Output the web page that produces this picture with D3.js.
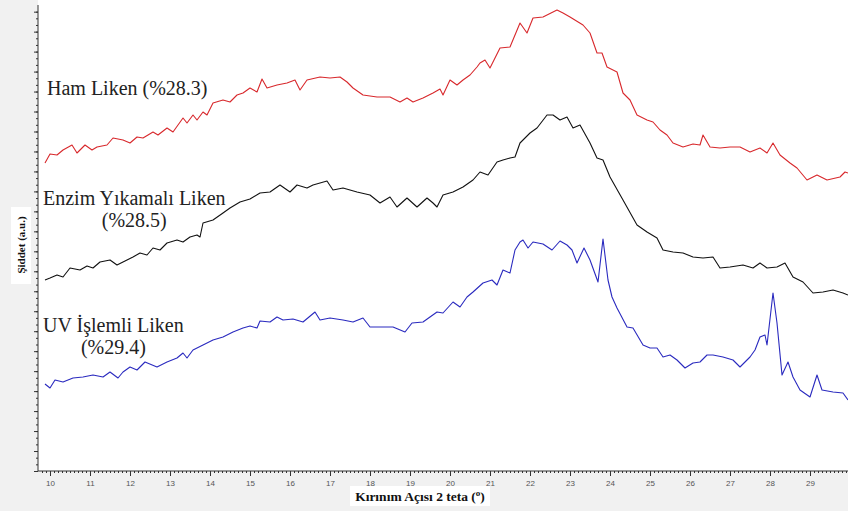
<!DOCTYPE html>
<html>
<head>
<meta charset="utf-8">
<script src="https://cdn.jsdelivr.net/npm/d3@7"></script>
<style>
  body { margin: 0; background: #f1f1f1; }
  svg { display: block; }
</style>
</head>
<body>
<div id="chart"></div>
<script>
// XRD patterns: [2 theta, intensity a.u.]
const hamLiken = [
  [9.875,308],[10.0,317],[10.175,316],[10.325,321],[10.55,326],[10.675,318],[10.875,326],[11.05,321],
  [11.175,324],[11.425,326],[11.575,333],[11.825,331],[12.0,328],[12.175,334],[12.325,333],[12.575,339],
  [12.7,336],[12.925,343],[13.075,339],[13.325,353],[13.425,348],[13.575,356],[13.675,351],[13.825,359],
  [13.925,356],[14.075,368],[14.325,371],[14.5,369],[14.675,376],[14.825,378],[15.0,383],[15.175,379],
  [15.3,392],[15.425,383],[15.675,386],[15.925,388],[16.125,391],[16.25,381],[16.425,391],[16.75,394],
  [17.0,393],[17.25,394],[17.425,389],[17.575,383],[17.825,376],[18.175,374],[18.5,374],[18.75,369],
  [18.925,373],[19.075,369],[19.325,373],[19.575,378],[19.75,382],[19.825,376],[20.0,391],[20.175,386],
  [20.325,391],[20.5,396],[20.675,404],[20.75,408],[20.875,411],[21.0,403],[21.25,423],[21.5,424],
  [21.75,448],[21.925,438],[22.075,453],[22.325,454],[22.675,461],[22.825,458],[23.0,454],[23.325,446],
  [23.5,438],[23.675,418],[23.8,418],[23.925,404],[24.175,399],[24.325,378],[24.5,371],[24.675,356],
  [24.925,351],[25.075,349],[25.25,341],[25.425,336],[25.575,328],[25.825,324],[26.075,327],[26.25,326],
  [26.325,336],[26.5,324],[26.75,323],[27.0,324],[27.25,324],[27.5,319],[27.75,323],[27.925,318],
  [28.075,328],[28.25,316],[28.5,308],[28.675,303],[28.925,291],[29.175,296],[29.425,291],[29.75,294],
  [29.875,299],[29.95,298]
];

const enzimLiken = [
  [9.875,191],[10.0,193],[10.175,196],[10.325,194],[10.5,203],[10.75,201],[10.925,205],[11.075,203],
  [11.25,209],[11.5,211],[11.675,206],[11.925,211],[12.075,214],[12.25,218],[12.425,216],[12.575,223],
  [12.75,221],[12.925,228],[13.175,231],[13.325,229],[13.5,234],[13.675,236],[13.75,234],[13.825,248],
  [14.075,251],[14.325,258],[14.5,263],[14.75,269],[15.0,272],[15.25,278],[15.5,279],[15.75,286],
  [16.0,279],[16.175,286],[16.425,283],[16.575,286],[16.925,290],[17.075,281],[17.325,283],[17.675,279],
  [18.0,276],[18.25,268],[18.5,274],[18.675,264],[18.925,273],[19.175,264],[19.425,273],[19.575,268],
  [19.675,264],[19.825,276],[20.075,279],[20.325,284],[20.575,291],[20.75,299],[20.95,296],[21.175,309],
  [21.325,311],[21.5,313],[21.625,314],[21.75,328],[22.0,338],[22.175,343],[22.425,356],[22.575,356],
  [22.75,351],[22.925,354],[23.075,343],[23.25,346],[23.5,328],[23.675,313],[23.825,311],[24.0,294],
  [24.325,271],[24.675,246],[24.925,239],[25.175,233],[25.325,221],[25.575,219],[25.825,218],[26.075,214],
  [26.325,213],[26.575,214],[26.75,203],[27.0,204],[27.325,206],[27.575,203],[27.75,208],[27.925,203],
  [28.175,204],[28.375,208],[28.575,194],[28.825,189],[29.075,178],[29.325,179],[29.575,181],[29.825,178],
  [29.95,176]
];

const uvLiken = [
  [9.875,87],[10.0,83],[10.125,91],[10.325,89],[10.575,93],[10.825,94],[11.075,96],[11.325,94],
  [11.5,99],[11.7,93],[11.825,99],[12.0,104],[12.175,101],[12.375,109],[12.675,104],[12.925,109],
  [13.175,113],[13.325,118],[13.425,113],[13.575,121],[13.825,126],[14.075,131],[14.325,134],[14.575,139],
  [14.825,143],[15.0,145],[15.175,143],[15.25,150],[15.5,149],[15.675,154],[15.825,151],[16.075,152],
  [16.325,149],[16.625,159],[16.75,151],[17.0,153],[17.325,151],[17.575,149],[17.825,153],[18.0,144],
  [18.325,144],[18.575,144],[18.875,139],[19.05,148],[19.325,149],[19.5,154],[19.675,159],[19.825,158],
  [20.075,169],[20.25,164],[20.425,174],[20.575,179],[20.825,188],[21.05,191],[21.175,186],[21.325,201],
  [21.5,198],[21.625,221],[21.75,229],[21.825,231],[21.95,223],[22.075,229],[22.325,227],[22.55,221],
  [22.75,230],[22.925,226],[23.05,221],[23.175,208],[23.35,223],[23.5,211],[23.7,189],[23.825,232],
  [23.95,191],[24.05,174],[24.175,163],[24.425,144],[24.575,143],[24.825,126],[25.0,123],[25.175,123],
  [25.325,114],[25.5,116],[25.675,111],[25.875,103],[26.075,108],[26.25,109],[26.425,116],[26.575,116],
  [26.825,114],[27.075,111],[27.25,104],[27.5,114],[27.625,121],[27.75,134],[27.875,136],[27.925,126],
  [28.075,178],[28.175,148],[28.3,96],[28.45,109],[28.575,94],[28.75,81],[29.0,74],[29.175,96],
  [29.3,81],[29.575,79],[29.825,78],[29.95,71]
];

const seriesNames = ["Ham Liken (%28.3)", "Enzim Yıkamalı Liken", "UV İşlemli Liken"];
const seriesSub = ["", "(%28.5)", "(%29.4)"];
const xTicks = d3.range(10, 30, 1);

const width = 848, height = 511;

const svg = d3.select("#chart")
              .append("svg")
              .attr("width", width)
              .attr("height", height);

// white plot area
svg.append("rect")
   .attr("x", 38).attr("y", 0)
   .attr("width", width - 38).attr("height", 471)
   .attr("fill", "#fff");

const x = d3.scaleLinear()
            .domain([9.7, 29.95])
            .range([38, 848]);

const y = d3.scaleLinear()
            .domain([0, 466])
            .range([471, 5]);

// x axis: minor ticks every 0.1, majors with labels
const xAxis = svg.append("g")
   .attr("transform", "translate(0,471)");

xAxis.append("g")
   .call(d3.axisBottom(x).tickValues(d3.range(9.8, 29.95, 0.1)).tickSize(2).tickFormat(""))
   .call(g => g.select(".domain").remove());

xAxis.append("g")
   .call(d3.axisBottom(x).tickValues(xTicks).tickSize(5).tickPadding(4).tickFormat(d3.format("d")))
   .call(g => g.select(".domain").attr("d", `M38,0H848`));

xAxis.selectAll("line").attr("stroke", "#333");
xAxis.selectAll(".domain").attr("stroke", "#333");
xAxis.selectAll("text")
     .attr("font-family", "Liberation Sans, Arial, sans-serif")
     .attr("font-size", 8)
     .attr("fill", "#555");

// y axis: no labels, small ticks
const yAxis = svg.append("g").attr("transform", "translate(38,0)");
yAxis.append("g")
   .call(d3.axisLeft(y).tickValues(d3.range(0, 466, 466 / 70)).tickSize(2).tickFormat(""))
   .call(g => g.select(".domain").remove());
yAxis.append("g")
   .call(d3.axisLeft(y).tickValues(d3.range(0, 466, 466 * 3 / 70)).tickSize(4).tickFormat(""))
   .call(g => g.select(".domain").attr("d", "M0,471V5"));
yAxis.selectAll("line").attr("stroke", "#333");
yAxis.selectAll(".domain").attr("stroke", "#333");

// curves
const line = d3.line()
               .x(d => x(d[0]))
               .y(d => y(d[1]));

[[hamLiken, "#d8282c"], [enzimLiken, "#111"], [uvLiken, "#2a2abf"]].forEach(([data, color]) => {
    svg.append("path")
       .datum(data)
       .attr("fill", "none")
       .attr("stroke", color)
       .attr("stroke-width", 1.1)
       .attr("stroke-linejoin", "round")
       .attr("d", line);
});

// series labels
const labelFont = "Liberation Serif, Times New Roman, serif";
const labelPos = [[47, 95], [43, 205], [43, 332]];
labelPos.forEach(([lx, ly], i) => {
    const t = svg.append("text")
       .attr("x", lx).attr("y", ly)
       .attr("font-family", labelFont)
       .attr("font-size", 20)
       .attr("fill", "#222")
       .text(seriesNames[i]);
    if (seriesSub[i]) {
        const w = t.node().getComputedTextLength();
        svg.append("text")
           .attr("x", lx + w / 2).attr("y", ly + 22)
           .attr("text-anchor", "middle")
           .attr("font-family", labelFont)
           .attr("font-size", 20)
           .attr("fill", "#222")
           .text(seriesSub[i]);
    }
});

// axis titles on white boxes
svg.append("rect")
   .attr("x", 350).attr("y", 486)
   .attr("width", 140).attr("height", 20)
   .attr("fill", "#fff");
const xt = svg.append("text")
   .attr("x", 420).attr("y", 501)
   .attr("text-anchor", "middle")
   .attr("font-family", labelFont)
   .attr("font-weight", "bold")
   .attr("font-size", 13.5)
   .attr("fill", "#111")
   .text("Kırınım Açısı 2 teta (");
xt.append("tspan").attr("baseline-shift", "super").attr("font-size", 9).text("o");
xt.append("tspan").text(")");

svg.append("rect")
   .attr("x", 11).attr("y", 207)
   .attr("width", 20).attr("height", 77)
   .attr("fill", "#fff");
svg.append("text")
   .attr("transform", "translate(25,245) rotate(-90)")
   .attr("text-anchor", "middle")
   .attr("font-family", labelFont)
   .attr("font-weight", "bold")
   .attr("font-size", 11)
   .attr("fill", "#111")
   .text("Şiddet (a.u.)");
</script>
</body>
</html>
